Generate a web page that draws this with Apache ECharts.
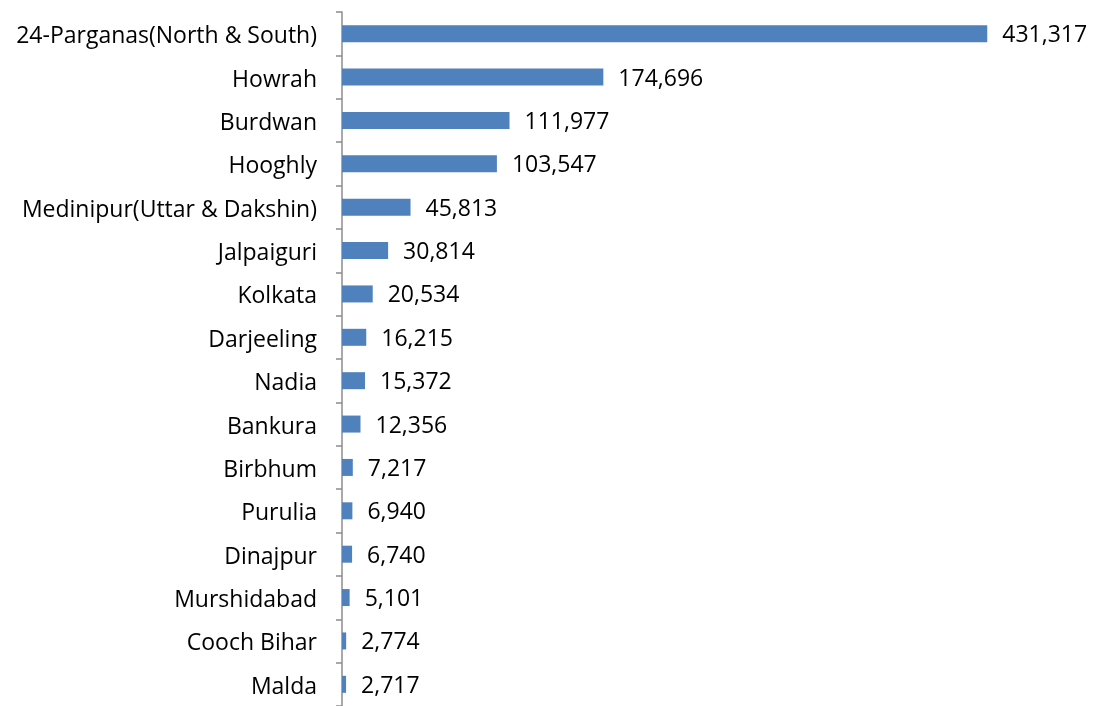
<!DOCTYPE html>
<html>
<head>
<meta charset="utf-8">
<script src="https://cdn.jsdelivr.net/npm/echarts@6/dist/echarts.min.js"></script>
<style>
  html, body { margin: 0; padding: 0; background: #fff; }
  #chart { width: 1095px; height: 706px; }
</style>
</head>
<body>
<div id="chart"></div>
<script>
// Districts, listed top to bottom
const districts = [
  '24-Parganas(North & South)', 'Howrah', 'Burdwan', 'Hooghly',
  'Medinipur(Uttar & Dakshin)', 'Jalpaiguri', 'Kolkata', 'Darjeeling',
  'Nadia', 'Bankura', 'Birbhum', 'Purulia', 'Dinajpur', 'Murshidabad',
  'Cooch Bihar', 'Malda'
];
const counts = [
  431317, 174696, 111977, 103547, 45813, 30814, 20534, 16215,
  15372, 12356, 7217, 6940, 6740, 5101, 2774, 2717
];

const chart = echarts.init(document.getElementById('chart'));
const fontFamily = '"Open Sans", Lato, sans-serif';

chart.setOption({
  animation: false,
  grid: { left: 342, right: 5, top: 12, bottom: -2, containLabel: false },
  xAxis: {
    type: 'value',
    min: 0,
    max: 500000,
    show: false
  },
  yAxis: {
    type: 'category',
    inverse: true,
    data: districts,
    axisLine: { show: true, lineStyle: { color: '#8c8c8c', width: 1.5 } },
    axisTick: { show: true, length: 6, lineStyle: { color: '#8c8c8c', width: 1.5 } },
    axisLabel: {
      margin: 25,
      formatter: v => '{n|' + v + '}',
      rich: {
        n: { color: '#000', fontSize: 23, fontFamily: fontFamily, padding: [6, 0, 0, 0] }
      }
    },
    splitLine: { show: false }
  },
  series: [{
    type: 'bar',
    data: counts,
    barWidth: 17,
    itemStyle: { color: '#4f81bd' },
    label: {
      show: true,
      position: 'right',
      distance: 15,
      offset: [0, 2],
      color: '#000',
      fontSize: 23,
      fontFamily: fontFamily,
      formatter: p => p.value.toLocaleString('en-US')
    }
  }]
});
</script>
</body>
</html>
